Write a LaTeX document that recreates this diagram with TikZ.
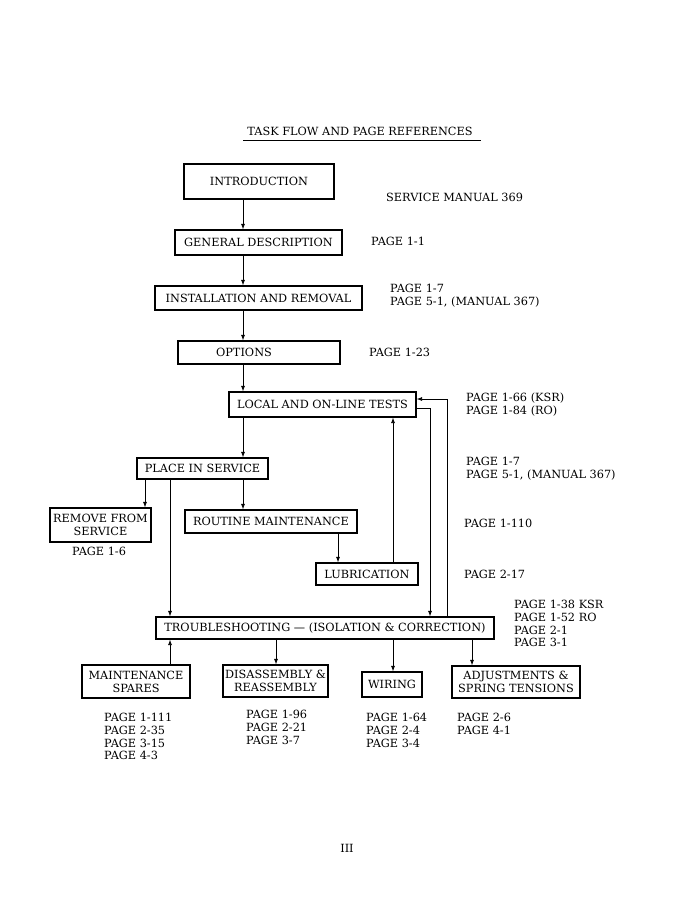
\documentclass[tikz,border=0pt]{standalone}
\usepackage{fontspec}
\setmainfont{DejaVu Serif}
\usetikzlibrary{arrows.meta}
\newcommand{\fnt}{\fontsize{11.3}{12.8}\selectfont}
\newcommand{\pg}[3]{\node[pgtext] (#1) at (#2) {#3}}
\newcommand{\col}[2]{\coordinate (#1) at (#2,0)}

\begin{document}
\begin{tikzpicture}[x=1pt,y=-1pt,
	box/.style={draw,line width=1.1pt,inner sep=0pt,align=center,font=\fnt},
	pgtext/.style={anchor=north west,inner sep=0pt,align=left,font=\fnt},
	arr/.style={line width=0.8pt,-{Latex[length=5.5pt,width=4pt]}}]
	\useasboundingbox (0,0) rectangle (698,912);
	\col{spine}{243};
	\col{cA}{145};
	\col{cB}{170};
	\col{cC}{338};
	\col{cD}{393};
	\col{cE}{430};
	\col{cF}{447};
	\col{cG}{276};
	\col{cH}{472};
	\node[anchor=north,inner sep=0pt,font=\fnt] (title) at (360,127) {TASK FLOW AND PAGE REFERENCES};
	\draw[line width=0.9pt] (243,140) -- (481,140);
	\node[box,minimum width=150,minimum height=35] (intro) at (259,181.5) {INTRODUCTION};
	\node[box,minimum width=167,minimum height=25] (gen) at (258.5,242.5) {GENERAL DESCRIPTION};
	\node[box,minimum width=207,minimum height=24] (inst) at (258.5,298) {INSTALLATION AND REMOVAL};
	\node[box,minimum width=162,minimum height=23] (opt) at (259,352.5) {OPTIONS\hspace*{30pt}};
	\node[box,minimum width=187,minimum height=25] (local) at (322.5,404.5) {LOCAL AND ON-LINE TESTS};
	\node[box,minimum width=131,minimum height=21] (place) at (202.5,468.5) {PLACE IN SERVICE};
	\node[box,minimum width=101,minimum height=34] (remove) at (100.5,525) {REMOVE FROM\\SERVICE};
	\node[box,minimum width=172,minimum height=23] (routine) at (271,521.5) {ROUTINE MAINTENANCE};
	\node[box,minimum width=102,minimum height=22] (lub) at (367,574) {LUBRICATION};
	\node[box,minimum width=338,minimum height=22] (trouble) at (325,628) {TROUBLESHOOTING --- (ISOLATION \& CORRECTION)};
	\node[box,minimum width=108,minimum height=33] (spares) at (136,681.5) {MAINTENANCE\\SPARES};
	\node[box,minimum width=105,minimum height=32] (disasm) at (275.5,681) {DISASSEMBLY \&\\REASSEMBLY};
	\node[box,minimum width=60,minimum height=25] (wiring) at (392,684.5) {WIRING};
	\node[box,minimum width=128,minimum height=32] (adjust) at (516,682) {ADJUSTMENTS \&\\SPRING TENSIONS};
	\draw[arr] (intro.south -| spine) -- (gen.north -| spine);
	\draw[arr] (gen.south -| spine) -- (inst.north -| spine);
	\draw[arr] (inst.south -| spine) -- (opt.north -| spine);
	\draw[arr] (opt.south -| spine) -- (local.north -| spine);
	\draw[arr] (local.south -| spine) -- (place.north -| spine);
	\draw[arr] (place.south -| cA) -- (remove.north -| cA);
	\draw[arr] (place.south -| cB) -- (trouble.north -| cB);
	\draw[arr] (place.south -| spine) -- (routine.north -| spine);
	\draw[arr] (routine.south -| cC) -- (lub.north -| cC);
	\draw[arr] (lub.north -| cD) -- (local.south -| cD);
	\draw[arr] ([yshift=-3.5pt]local.east) -| (trouble.north -| cE);
	\draw[arr] (trouble.north -| cF) |- ([yshift=5.5pt]local.east);
	\draw[arr] (spares.north -| cB) -- (trouble.south -| cB);
	\draw[arr] (trouble.south -| cG) -- (disasm.north -| cG);
	\draw[arr] (trouble.south -| cD) -- (wiring.north -| cD);
	\draw[arr] (trouble.south -| cH) -- (adjust.north -| cH);
	\pg{pIntro}{386,193}{SERVICE MANUAL 369};
	\pg{pGen}{371,237}{PAGE 1-1};
	\pg{pInst}{390,284}{PAGE 1-7\\PAGE 5-1, (MANUAL 367)};
	\pg{pOpt}{369,348}{PAGE 1-23};
	\pg{pLocal}{466,393}{PAGE 1-66 (KSR)\\PAGE 1-84 (RO)};
	\pg{pPlace}{466,457}{PAGE 1-7\\PAGE 5-1, (MANUAL 367)};
	\pg{pRemove}{72,547}{PAGE 1-6};
	\pg{pRoutine}{464,519}{PAGE 1-110};
	\pg{pLub}{464,570}{PAGE 2-17};
	\pg{pTrouble}{514,600}{PAGE 1-38 KSR\\PAGE 1-52 RO\\PAGE 2-1\\PAGE 3-1};
	\pg{pSpares}{104,713}{PAGE 1-111\\PAGE 2-35\\PAGE 3-15\\PAGE 4-3};
	\pg{pDisasm}{246,710}{PAGE 1-96\\PAGE 2-21\\PAGE 3-7};
	\pg{pWiring}{366,713}{PAGE 1-64\\PAGE 2-4\\PAGE 3-4};
	\pg{pAdjust}{457,713}{PAGE 2-6\\PAGE 4-1};
	\node[anchor=north,inner sep=0pt,font=\fnt] (folio) at (347,844) {III};
\end{tikzpicture}
\end{document}
